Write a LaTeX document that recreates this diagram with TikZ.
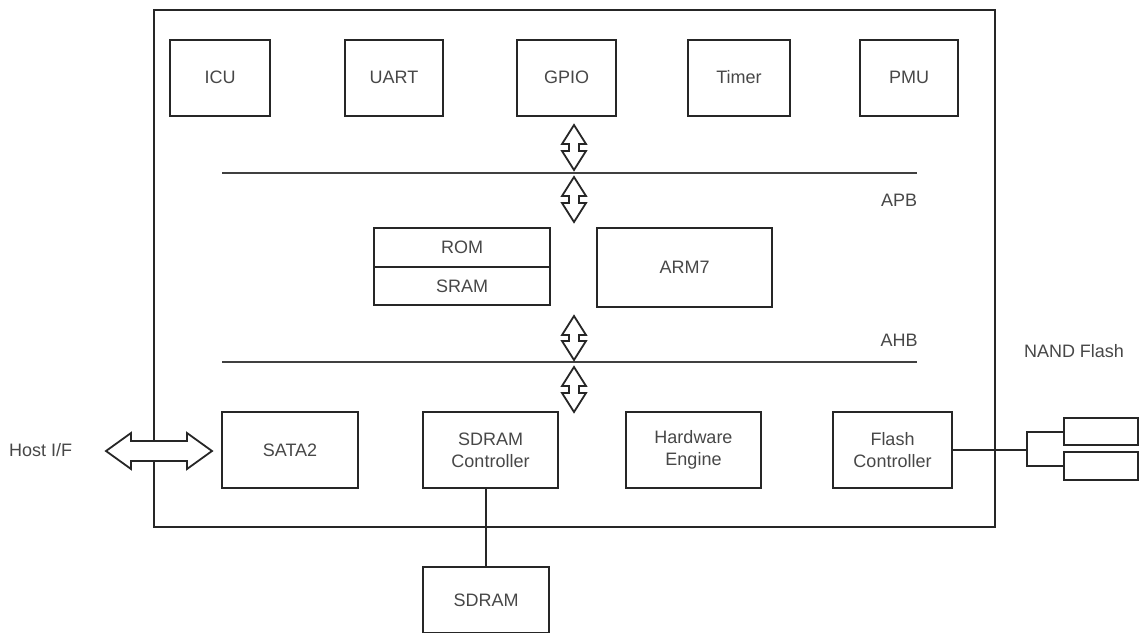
\documentclass[tikz,border=0pt]{standalone}
\usepackage{fontspec}
\setmainfont{Liberation Sans}
\begin{document}
\begin{tikzpicture}[x=1pt,y=-1pt,
  blk/.style={draw=black!85,line width=2pt,minimum width=#1,minimum height=76pt,inner sep=0pt,align=center,font=\fontsize{18}{22}\selectfont,text=black!72},
  blk/.default=100pt,
  lbl/.style={font=\fontsize{18}{22}\selectfont,text=black!72,inner sep=0pt},
  bus/.style={draw=black!75,line width=2pt},
  wire/.style={draw=black!85,line width=2pt},
  barrow/.style={draw=black!85,line width=1.8pt,fill=white,line join=miter}]
\useasboundingbox (0,0) rectangle (1140,632);
% outer box
\node[draw=black!85,line width=2pt,minimum width=841pt,minimum height=517pt,inner sep=0pt] (chip) at (574.5,268.5) {};
% top peripherals
\node[blk=100pt] (icu) at (220,77.5) {ICU};
\node[blk=98pt] (uart) at (394,77.5) {UART};
\node[blk=99pt] (gpio) at (566.5,77.5) {GPIO};
\node[blk=102pt] (timer) at (739,77.5) {Timer};
\node[blk=98pt] (pmu) at (909,77.5) {PMU};
% APB
\coordinate (apbL) at (222,173);
\coordinate (apbR) at (917,173);
\draw[bus] (apbL) -- (apbR);
\node[lbl] (apb) at (899,200) {APB};
% ROM/SRAM
\node[blk=176pt,minimum height=39pt] (rom) at (462,247.5) {ROM};
\node[blk=176pt,minimum height=38pt] (sram) at (462,286) {SRAM};
\node[blk=175pt,minimum height=79pt] (arm) at (684.5,267.5) {ARM7};
% AHB
\coordinate (ahbL) at (222,362);
\coordinate (ahbR) at (917,362);
\draw[bus] (ahbL) -- (ahbR);
\node[lbl] (ahb) at (899,340) {AHB};
% bottom blocks
\node[blk=136pt] (sata) at (290,450) {SATA2};
\node[blk=135pt] (sdc) at (490.5,450) {SDRAM\\Controller};
\node[blk=135pt] (hwe) at (693.5,450) {Hardware\\Engine};
\node[blk=119pt] (fc) at (892.5,450) {Flash\\Controller};
% SDRAM
\node[blk=126pt,minimum height=66pt] (sdram) at (486,600) {SDRAM};
\draw[wire] (sdram.north) -- (sdram.north |- sdc.south);
% host
\node[lbl,anchor=west] (host) at (9,450) {Host I/F};
% host arrow
\draw[barrow] (106,451) -- (131,433) -- (131,441) -- (187,441) -- (187,433) -- (212,451) -- (187,469) -- (187,461) -- (131,461) -- (131,469) -- cycle;
% vertical arrows
\foreach \ya/\yb in {125/170,177/222,316/360,367/412}{
  \draw[barrow] (574,\ya) -- (586,\ya+19) -- (579,\ya+19) -- (579,\yb-19) -- (586,\yb-19) -- (574,\yb) -- (562,\yb-19) -- (569,\yb-19) -- (569,\ya+19) -- (562,\ya+19) -- cycle;
}
% NAND flash
\node[lbl] (nand) at (1074,351) {NAND Flash};
\node[draw=black!85,line width=2pt,minimum width=74pt,minimum height=27pt,inner sep=0pt] (f1) at (1101,431.5) {};
\node[draw=black!85,line width=2pt,minimum width=74pt,minimum height=28pt,inner sep=0pt] (f2) at (1101,466) {};
\coordinate (br) at (1027,450);
\draw[wire] (fc.east) -- (br);
\draw[wire] (f1.west) -| (br) |- (f2.west);
\end{tikzpicture}
\end{document}
